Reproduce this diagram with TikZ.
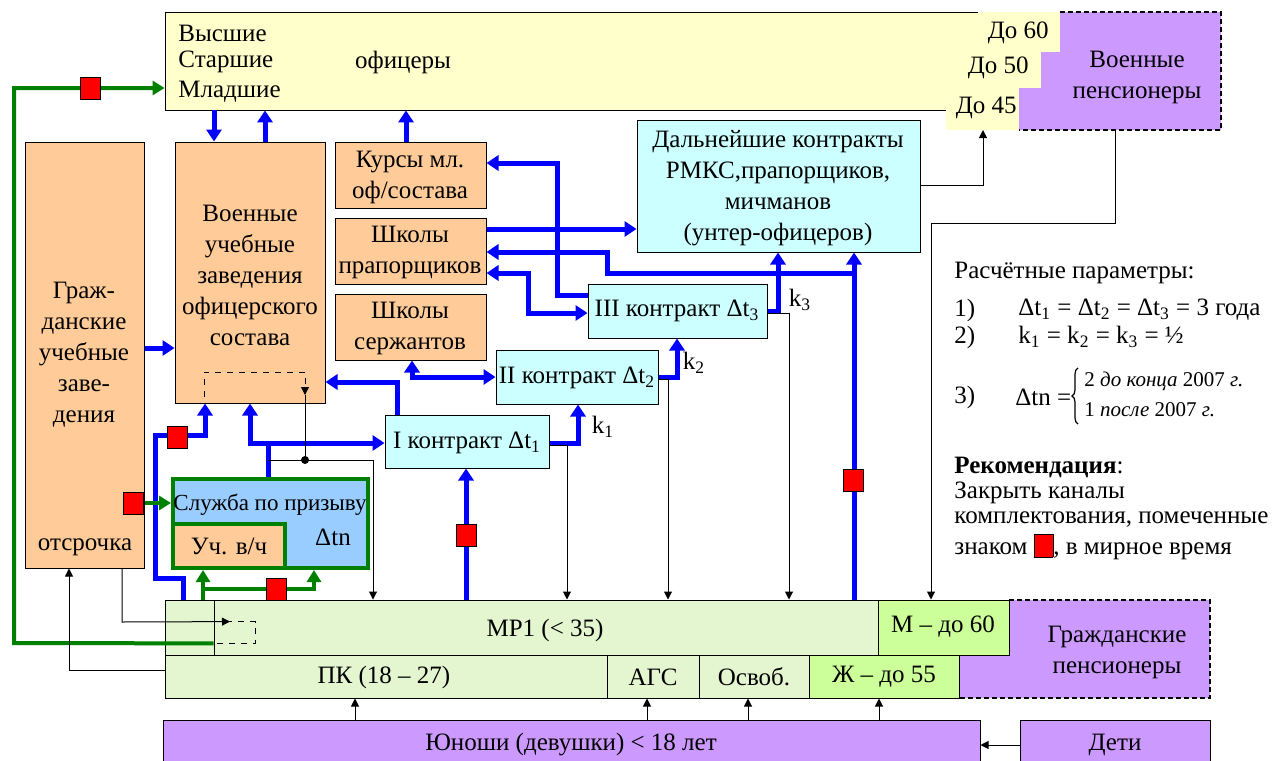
\documentclass[tikz,border=0pt]{standalone}
\usepackage{fontspec}
\setmainfont{Liberation Serif}
\usetikzlibrary{arrows.meta,fit,calc,decorations.pathreplacing}
\newcommand\dfont{\fontsize{12.5}{15.5}\selectfont}
\definecolor{cyel}{HTML}{FFFFCC}
\definecolor{corg}{HTML}{FFCC99}
\definecolor{ccyan}{HTML}{CCFFFF}
\definecolor{cpur}{HTML}{CC99FF}
\definecolor{cblu}{HTML}{99CCFF}
\definecolor{clgr}{HTML}{E4F6D0}
\definecolor{cgr}{HTML}{CCFF99}
\definecolor{cgreen}{HTML}{008000}
\begin{document}
\begin{tikzpicture}[x=0.5pt,y=-0.5pt,
  every node/.style={font=\dfont, inner sep=0pt},
  box/.style={draw=black, line width=0.5pt, inner sep=0pt},
  obox/.style={box, fill=corg},
  cbox/.style={box, fill=ccyan},
  txt/.style={align=center},
  bl/.style={draw=blue, line width=2.5pt},
  barr/.style={bl, -{Triangle[length=6pt,width=7.5pt]}},
  bboth/.style={bl, {Triangle[length=6pt,width=7.5pt]}-{Triangle[length=6pt,width=7.5pt]}},
  gl/.style={draw=cgreen, line width=2pt},
  garr/.style={gl, -{Triangle[length=6pt,width=7pt]}},
  kl/.style={draw=black, line width=0.5pt},
  karr/.style={kl, -{Triangle[length=4pt,width=4pt]}},
  redsq/.style={draw=black, line width=0.4pt, fill=red, minimum width=10pt, minimum height=11pt, inner sep=0pt},
  pdash/.style={draw=black, line width=0.6pt, dash pattern=on 2.5pt off 1.5pt},
  itxt/.style={anchor=west, font=\fontsize{10.5}{13}\selectfont},
]
\useasboundingbox (0,0) rectangle (1279,760);
\clip (0,0) rectangle (1279,760);

% ---------- officers (yellow) ----------
\fill[cyel] (165,12) -- (1060,12) -- (1060,52) -- (1041,52) -- (1041,88) -- (1019,88) -- (1019,130) -- (946,130) -- (946,110) -- (165,110) -- cycle;
\draw[kl] (978,12) -- (165,12) -- (165,110) -- (946,110);
\node[fit={(165,12)(946,110)}] (off) {};
\coordinate (y45) at (983,130);
% ---------- military pensioners ----------
\fill[cpur] (1060,12) -- (1221,12) -- (1221,130) -- (1019,130) -- (1019,88) -- (1041,88) -- (1041,52) -- (1060,52) -- cycle;
\draw[pdash] (1060,12) -- (1221,12) -- (1221,130) -- (1019,130);
\node[fit={(1019,12)(1221,130)}] (vpens) {};

% ---------- boxes ----------
\node[obox, fit={(25,142)(144,568)}] (grazh) {};
\node[obox, fit={(175,142)(325,403)}] (vuz) {};
\node[obox, fit={(335,142)(486,208)}] (kurs) {};
\node[obox, fit={(335,218)(486,284)}] (shpr) {};
\node[obox, fit={(335,294)(486,360)}] (sherz) {};
\node[cbox, fit={(637,120)(920,252)}] (dalk) {};
\node[cbox, fit={(588,284)(767,338)}] (k3b) {};
\node[cbox, fit={(496,350)(658,404)}] (k2b) {};
\node[cbox, fit={(385,415)(549,468)}] (k1b) {};
\node[draw=cgreen, line width=2pt, fill=cblu, inner sep=0pt, fit={(173,479)(368,568)}] (sluzh) {};
\node[draw=cgreen, line width=2pt, fill=corg, inner sep=0pt, fit={(173,524)(285,568)}] (uchvch) {};

% ---------- reserve / civil strip ----------
\fill[cpur] (1009,600) -- (1210,600) -- (1210,698) -- (959,698) -- (959,655) -- (1009,655) -- cycle;
\draw[pdash] (1009,600) -- (1210,600) -- (1210,698) -- (959,698);
\node[fit={(959,600)(1210,698)}] (gpens) {};
\node[box, fill=clgr, fit={(165,600)(878,698)}] (mr) {};
\node[box, fit={(214,600)(878,655)}] (mp1) {};
\node[box, fit={(165,655)(607,698)}] (pk) {};
\node[box, fill=clgr, fit={(607,655)(699,698)}] (ags) {};
\node[box, fill=clgr, fit={(699,655)(809,698)}] (osv) {};
\node[box, fill=cgr, fit={(809,655)(959,698)}] (zh) {};
\node[box, fill=cgr, fit={(878,600)(1009,655)}] (m60) {};
\node[fit={(214,622)(255,643)}] (dsb) {};
\draw[kl, dashed] (dsb.north west) -- (dsb.north east) -- (dsb.south east) -- (dsb.south west);

\node[box, fill=cpur, fit={(163,720)(980,775)}] (yun) {};
\node[box, fill=cpur, fit={(1020,720)(1210,775)}] (deti) {};

% ---------- blue connectors ----------
\draw[barr] (off.south -| 214,0) -- (vuz.north -| 214,0);
\draw[barr] (vuz.north -| 265,0) -- (off.south -| 265,0);
\draw[barr] (kurs.north -| 406,0) -- (off.south -| 406,0);
\draw[barr] (grazh.east |- 0,348) -- (vuz.west |- 0,348);
\draw[barr] (k3b.west |- 0,295) -- (557,295) -- (557,163) -- (kurs.east |- 0,163);
\draw[barr] (shpr.east |- 0,229) -- (dalk.west |- 0,229);
\draw[barr] (mp1.north -| 854,0) -- (dalk.south -| 854,0);
\draw[barr] (854,273) -- (607,273) -- (607,252) -- (shpr.east |- 0,252);
\draw[bboth] (shpr.east |- 0,273) -- (528,273) -- (528,313) -- (k3b.west |- 0,313);
\draw[barr] (k3b.east |- 0,311) -- (778,311) -- (dalk.south -| 778,0);
\draw[barr] (k2b.east |- 0,377) -- (677,377) -- (k3b.south -| 677,0);
\draw[barr] (k1b.east |- 0,443) -- (578,443) -- (k2b.south -| 578,0);
\draw[bboth] (sherz.south -| 412,0) -- (412,377) -- (k2b.west |- 0,377);
\draw[barr] (k1b.north -| 397,0) -- (397,382) -- (vuz.east |- 0,382);
\draw[bl] (sluzh.north -| 268,0) -- (268,443);
\draw[barr] (268,443) -- (k1b.west |- 0,443);
\draw[barr] (268,443) -- (250,443) -- (vuz.south -| 250,0);
\draw[barr] (mr.north -| 183,0) -- (183,578) -- (155,578) -- (155,435) -- (205,435) -- (vuz.south -| 205,0);
\draw[barr] (mp1.north -| 466,0) -- (k1b.south -| 466,0);

% ---------- green connectors ----------
\draw[garr] (dsb.south west) -- (14,643) -- (14,88) -- (off.west |- 0,88);
\draw[garr] (grazh.east |- 0,503) -- (sluzh.west |- 0,503);
\draw[garr] (mr.north -| 203,0) -- (sluzh.south -| 203,0);
\draw[garr] (203,589) -- (314,589) -- (sluzh.south -| 314,0);

% ---------- thin black connectors ----------
\draw[karr] (mr.west |- 0,670) -- (69,670) -- (grazh.south -| 69,0);
\draw[karr] (grazh.south -| 122,0) -- (122,622) -- (dsb.north -| 230,0);
\draw[kl, dashed, -{Triangle[length=4pt,width=4pt]}] (204,397) -- (204,372) -- (305,372) -- (305,395);
\draw[kl] (305,395) -- (305,460);
\fill (305,460) circle (2pt);
\draw[karr] (268,460) -- (373,460) -- (mp1.north -| 373,0);
\draw[karr] (k1b.east |- 0,445) -- (567,445) -- (mp1.north -| 567,0);
\draw[karr] (k2b.east |- 0,379) -- (668,379) -- (mp1.north -| 668,0);
\draw[karr] (k3b.east |- 0,313) -- (789,313) -- (mp1.north -| 789,0);
\draw[karr] (vpens.south -| 1115,0) -- (1115,223) -- (931,223) -- (m60.north -| 931,0);
\draw[karr] (dalk.east |- 0,185) -- (983,185) -- (y45);
\draw[karr] (yun.north -| 355,0) -- (pk.south -| 355,0);
\draw[karr] (yun.north -| 647,0) -- (ags.south -| 647,0);
\draw[karr] (yun.north -| 748,0) -- (osv.south -| 748,0);
\draw[karr] (yun.north -| 879,0) -- (zh.south -| 879,0);
\draw[karr] (deti.west |- 0,745) -- (yun.east |- 0,745);

% ---------- red squares ----------
\node[redsq] (rs1) at (90,88) {};
\node[redsq] (rs2) at (133,503) {};
\node[redsq] (rs3) at (177,437) {};
\node[redsq] (rs4) at (276,589) {};
\node[redsq] (rs5) at (466,535) {};
\node[redsq] (rs6) at (853,480) {};

% ---------- texts ----------
\node[anchor=west] (t-vys) at (178,33) {Высшие};
\node[anchor=west] (t-sta) at (178,62) {Старшие};
\node[anchor=west] (t-mla) at (178,92) {Младшие};
\node (t-off) at (403,62) {офицеры};
\node[anchor=east] (t-60) at (1049,33) {До 60};
\node[anchor=east] (t-50) at (1029,68) {До 50};
\node[anchor=east] (t-45) at (1017,108) {До 45};
\node[txt] (t-vpens) at (1137,77) {Военные\\пенсионеры};
\node[txt] (t-grazh) at (84,355) {Граж-\\данские\\учебные\\заве-\\дения};
\node (t-otsr) at (85,547) {отсрочка};
\node[txt] (t-vuz) at (250,275) {Военные\\учебные\\заведения\\офицерского\\состава};
\node[txt] (t-kurs) at (410,177) {Курсы мл.\\оф/состава};
\node[txt] (t-shpr) at (410,252) {Школы\\прапорщиков};
\node[txt] (t-sherz) at (410,328) {Школы\\сержантов};
\node[txt] (t-dalk) at (778,188) {Дальнейшие контракты\\РМКС,прапорщиков,\\мичманов\\(унтер-офицеров)};
\node (t-k3) at (677,311) {III контракт Δt\textsubscript{3}};
\node (t-k2) at (577,378) {II контракт Δt\textsubscript{2}};
\node (t-k1) at (467,443) {I контракт Δt\textsubscript{1}};
\node (l-k3) at (800,300) {k\textsubscript{3}};
\node (l-k2) at (694,363) {k\textsubscript{2}};
\node (l-k1) at (603,427) {k\textsubscript{1}};
\node[font=\fontsize{11.5}{14}\selectfont] (t-sl) at (270,505) {Служба по призыву};
\node (t-dtn) at (333,537) {Δtn};
\node (t-uch) at (229,546) {Уч. в/ч};
\node (t-mp1) at (545,630) {МР1 (< 35)};
\node (t-pk) at (384,677) {ПК (18 – 27)};
\node (t-ags) at (653,677) {АГС};
\node (t-osv) at (754,677) {Освоб.};
\node (t-zh) at (884,677) {Ж – до 55};
\node (t-m60) at (943,627) {М – до 60};
\node[txt] (t-gpens) at (1117,652) {Гражданские\\пенсионеры};
\node (t-yun) at (571,745) {Юноши (девушки) < 18 лет};
\node (t-deti) at (1115,745) {Дети};

% ---------- legend ----------
\node[anchor=west] (p0) at (954,273) {Расчётные параметры:};
\node[anchor=west] (p1n) at (954,310) {1)};
\node[anchor=west] (p1) at (1018,310) {Δt\textsubscript{1} = Δt\textsubscript{2} = Δt\textsubscript{3} = 3 года};
\node[anchor=west] (p2n) at (954,337) {2)};
\node[anchor=west] (p2) at (1018,337) {k\textsubscript{1} = k\textsubscript{2} = k\textsubscript{3} = ½};
\node[anchor=west] (p3n) at (954,397) {3)};
\node[anchor=west] (p3) at (1015,397) {Δtn =};
\draw[line width=0.6pt, decorate, decoration={brace, amplitude=3pt}] (1078,424) -- (1078,368);
\node[itxt] (p3a) at (1084,381) {2 \textit{до конца} 2007 \textit{г.}};
\node[itxt] (p3b) at (1084,410) {1 \textit{после} 2007 \textit{г.}};
\node[anchor=west] (r0) at (954,467) {\textbf{Рекомендация}:};
\node[anchor=west] (r1) at (954,493) {Закрыть каналы};
\node[anchor=west] (r2) at (954,520) {комплектования, помеченные};
\node[anchor=west] (r3) at (954,547) {знаком {\setlength\fboxsep{0pt}\setlength\fboxrule{0.4pt}\fcolorbox{black}{red}{\rule[-1pt]{0pt}{11pt}\hspace{9pt}}},  в мирное время};
\end{tikzpicture}
\end{document}
